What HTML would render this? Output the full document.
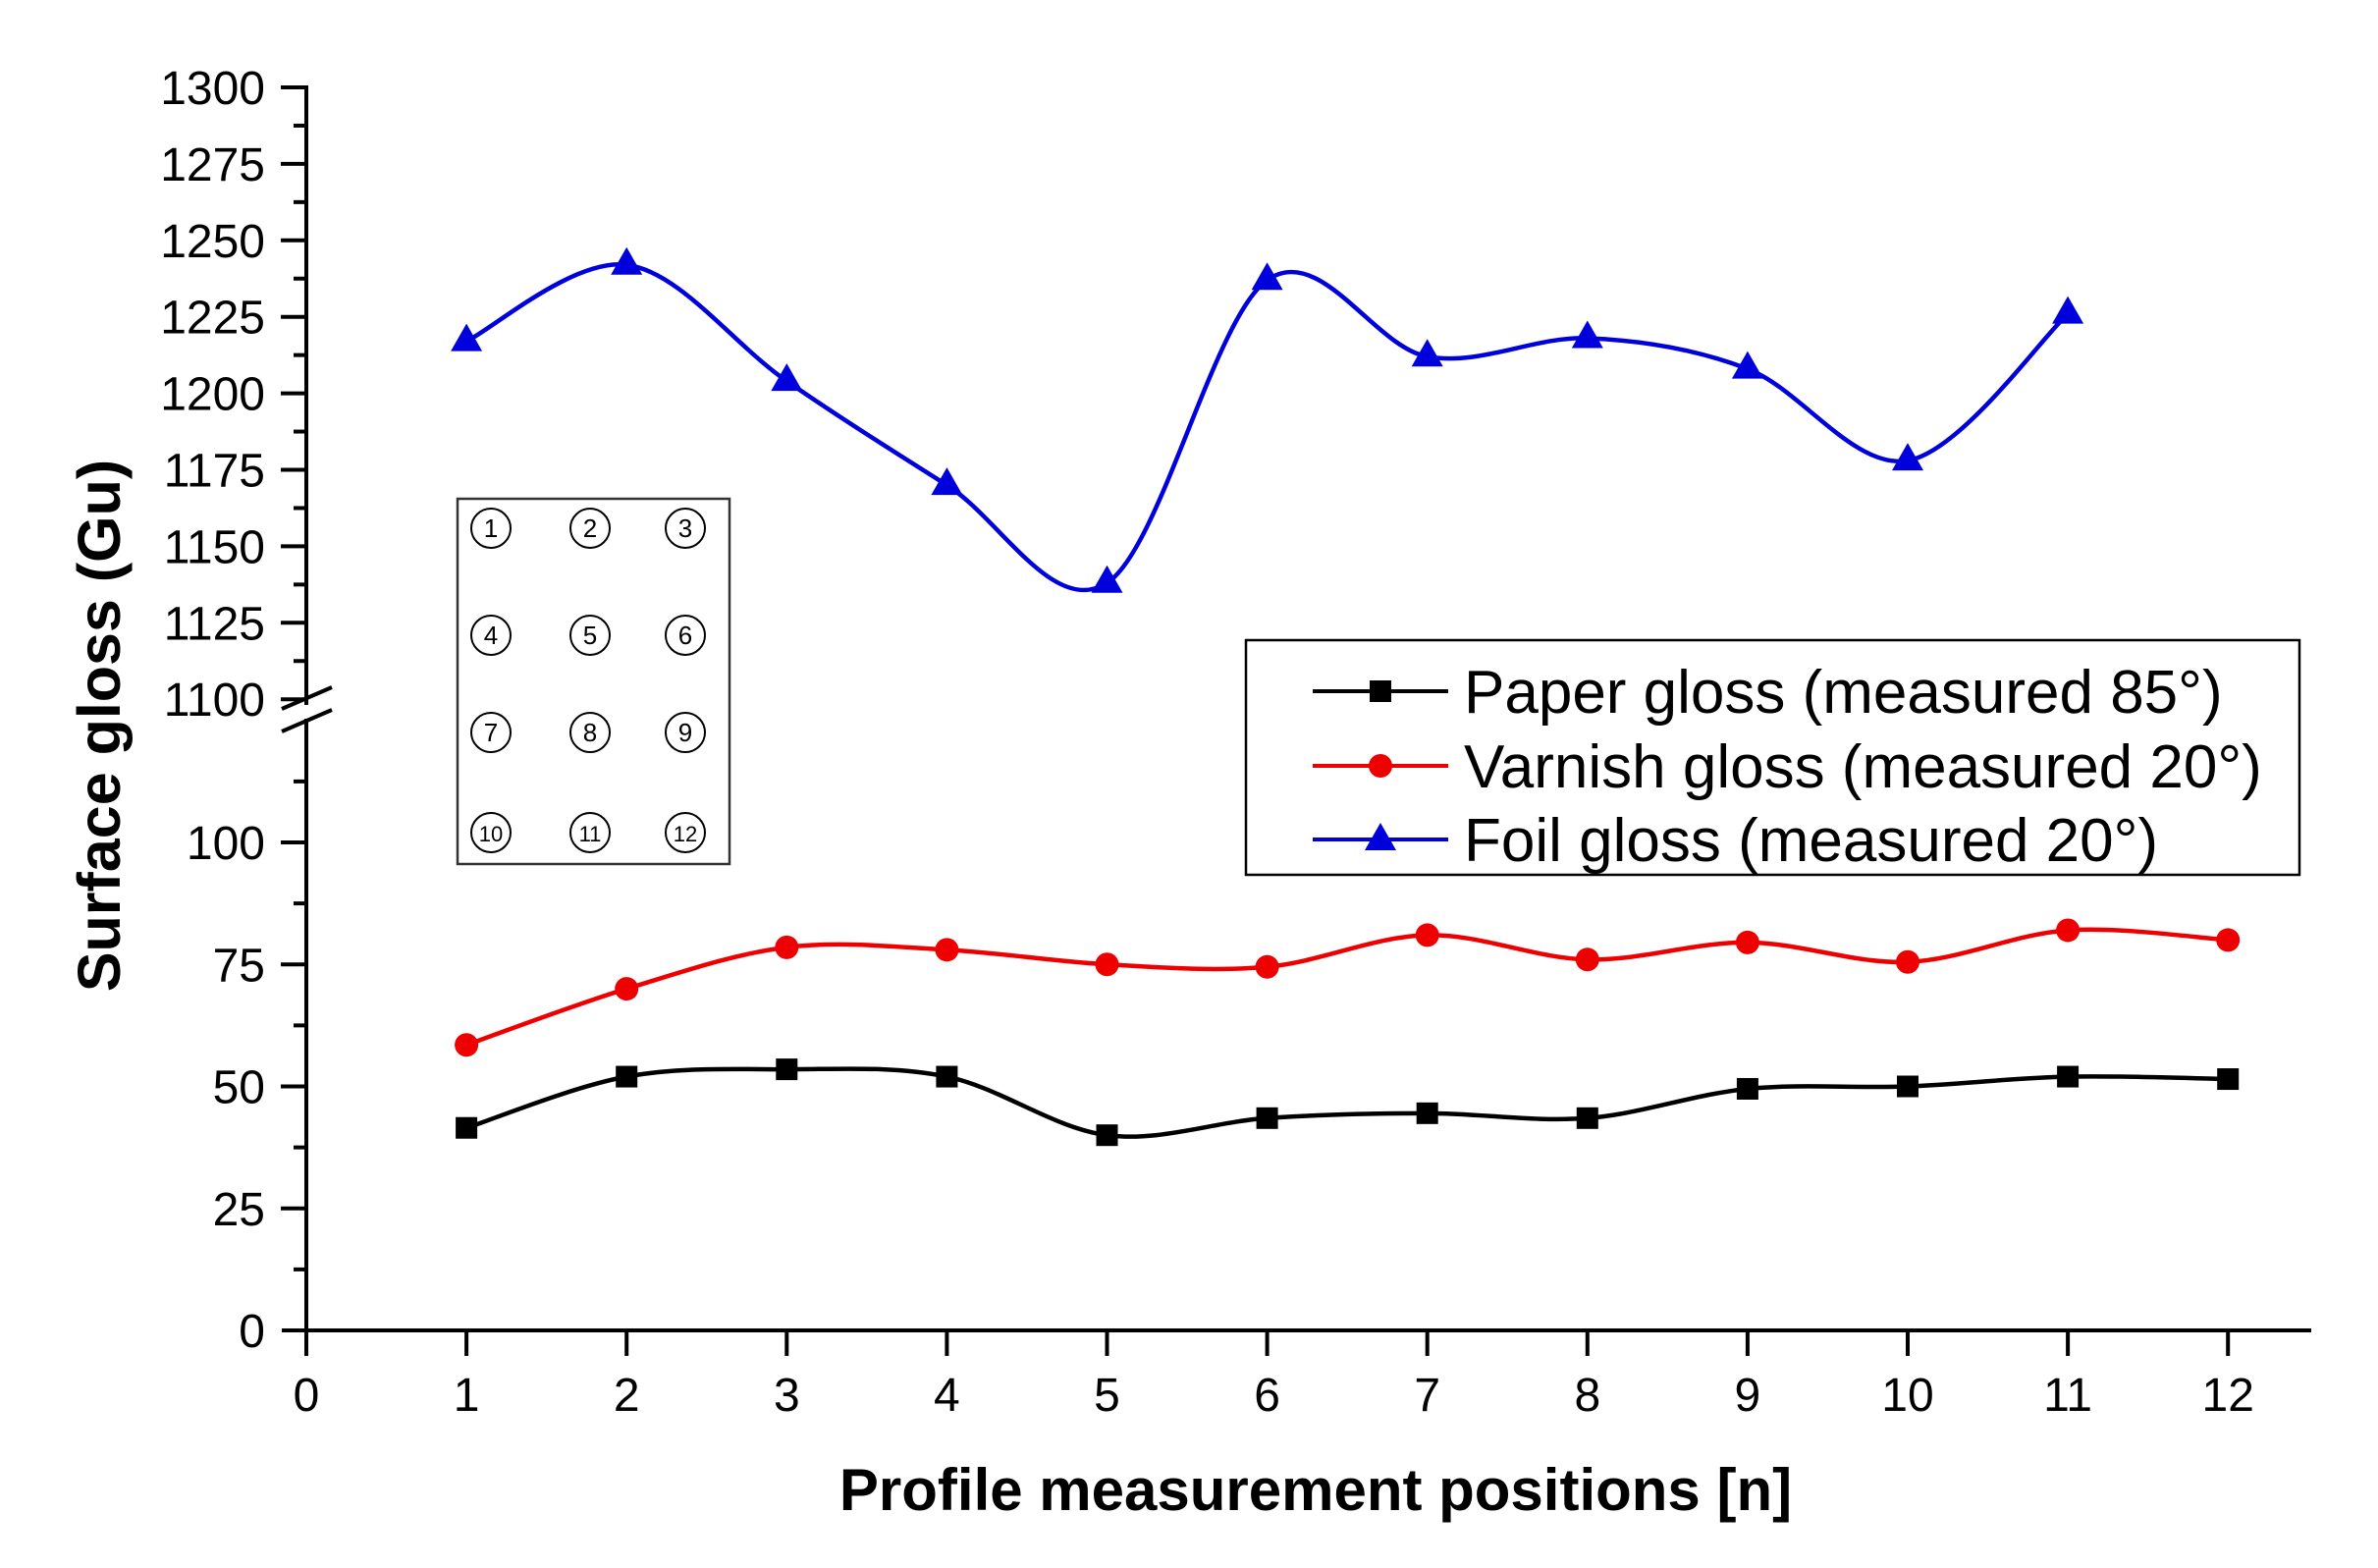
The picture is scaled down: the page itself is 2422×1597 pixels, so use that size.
<!DOCTYPE html>
<html><head><meta charset="utf-8"><style>
html,body{margin:0;padding:0;background:#fff;}
svg{display:block;font-family:"Liberation Sans",Arial,sans-serif;}
</style></head><body>
<svg id="s" width="2422" height="1597" viewBox="0 0 2422 1597" xmlns="http://www.w3.org/2000/svg">
<rect width="2422" height="1597" fill="#fff"/>
<g id="axes" stroke="#000" stroke-width="4" fill="none"></g>
<g id="labels" font-size="48" fill="#000"></g>
<g id="series"></g>
<rect x="466" y="508" width="277" height="372" fill="#fff" stroke="#333" stroke-width="2.5"/>
<g id="inset" font-size="26" fill="#000" text-anchor="middle"></g>
<rect x="1269" y="652" width="1073" height="239" fill="#fff" stroke="#000" stroke-width="2.5"/>
<g font-size="62" fill="#000">
<line x1="1337" y1="704" x2="1475" y2="704" stroke="#000" stroke-width="4"/>
<rect x="1395" y="693" width="22" height="22" fill="#000"/>
<text x="1491" y="726">Paper gloss (measured 85°)</text>
<line x1="1337" y1="780" x2="1475" y2="780" stroke="#e00" stroke-width="4"/>
<circle cx="1406" cy="780" r="12" fill="#e00"/>
<text x="1491" y="802">Varnish gloss (measured 20°)</text>
<line x1="1337" y1="855" x2="1475" y2="855" stroke="#00d" stroke-width="4"/>
<polygon points="1406,838 1422,866 1390,866" fill="#00d"/>
<text x="1491" y="877">Foil gloss (measured 20°)</text>
</g>
<text x="1340" y="1538" font-size="60" font-weight="bold" text-anchor="middle">Profile measurement positions [n]</text>
<text transform="translate(122,739) rotate(-90)" font-size="61" font-weight="bold" text-anchor="middle">Surface gloss (Gu)</text>
</svg>
<script>
const NS="http://www.w3.org/2000/svg";
function el(p,t,a,txt){const e=document.createElementNS(NS,t);for(const k in a)e.setAttribute(k,a[k]);if(txt!==undefined)e.textContent=txt;p.appendChild(e);return e;}
const ax=document.getElementById('axes'),lb=document.getElementById('labels'),se=document.getElementById('series'),ins=document.getElementById('inset');
const X0=312,XU=163.1,AX=1355;
const X=n=>X0+n*XU;
const YU=v=>89+(1300-v)*3.116;
const YL=v=>1355-v*4.97;
el(ax,'line',{x1:X0,y1:87,x2:X0,y2:718});
el(ax,'line',{x1:X0,y1:732,x2:X0,y2:AX+2});
el(ax,'line',{x1:X0-25,y1:AX,x2:2354,y2:AX});
el(ax,'line',{x1:287,y1:722,x2:338,y2:700});
el(ax,'line',{x1:287,y1:745,x2:338,y2:723});
for(let v=1100;v<=1300;v+=12.5){const y=YU(v);const maj=(v%25===0);el(ax,'line',{x1:X0-(maj?26:13),y1:y,x2:X0,y2:y});
 if(maj)el(lb,'text',{x:270,y:y+17,'text-anchor':'end'},String(v));}
for(let v=0;v<=112.5;v+=12.5){const y=YL(v);const maj=(v%25===0);if(v>0)el(ax,'line',{x1:X0-(maj?26:13),y1:y,x2:X0,y2:y});
 if(maj)el(lb,'text',{x:270,y:y+17,'text-anchor':'end'},String(v));}
for(let n=0;n<=12;n++){const x=X(n);el(ax,'line',{x1:x,y1:AX,x2:x,y2:AX+26});el(lb,'text',{x:x,y:1437,'text-anchor':'middle'},String(n));}
function spline(pts){let d=`M${pts[0][0]},${pts[0][1]}`;for(let i=0;i<pts.length-1;i++){const p0=pts[Math.max(0,i-1)],p1=pts[i],p2=pts[i+1],p3=pts[Math.min(pts.length-1,i+2)];
 const c1=[p1[0]+(p2[0]-p0[0])/6,p1[1]+(p2[1]-p0[1])/6],c2=[p2[0]-(p3[0]-p1[0])/6,p2[1]-(p3[1]-p1[1])/6];d+=` C${c1[0]},${c1[1]} ${c2[0]},${c2[1]} ${p2[0]},${p2[1]}`;}return d;}
const foil=[1217,1242,1204,1170,1138,1237,1212,1218,1208,1178,1226];
const varn=[58.5,70,78.5,78,75,74.5,81,76,79.5,75.5,82,80];
const pap=[41.5,52,53.5,52,40,43.5,44.5,43.5,49.5,50,52,51.5];
const pf=foil.map((v,i)=>[X(i+1),YU(v)]),pv=varn.map((v,i)=>[X(i+1),YL(v)]),pp=pap.map((v,i)=>[X(i+1),YL(v)]);
el(se,'path',{d:spline(pp),stroke:'#000','stroke-width':4.5,fill:'none'});
el(se,'path',{d:spline(pv),stroke:'#e00','stroke-width':4.5,fill:'none'});
el(se,'path',{d:spline(pf),stroke:'#00d','stroke-width':4.5,fill:'none'});
pp.forEach(p=>el(se,'rect',{x:p[0]-11,y:p[1]-11,width:22,height:22,fill:'#000'}));
pv.forEach(p=>el(se,'circle',{cx:p[0],cy:p[1],r:12,fill:'#e00'}));
pf.forEach(p=>el(se,'polygon',{points:`${p[0]},${p[1]-18} ${p[0]+16},${p[1]+10} ${p[0]-16},${p[1]+10}`,fill:'#00d'}));
const cols=[500,601,698],rows=[538,647,746,848];let k=1;
rows.forEach(r=>cols.forEach(c=>{el(ins,'circle',{cx:c,cy:r,r:20,fill:'none',stroke:'#000','stroke-width':2});
 el(ins,'text',{x:c,y:r+9,'font-size':k>9?22:26},String(k));k++;}));
</script>
</body></html>
